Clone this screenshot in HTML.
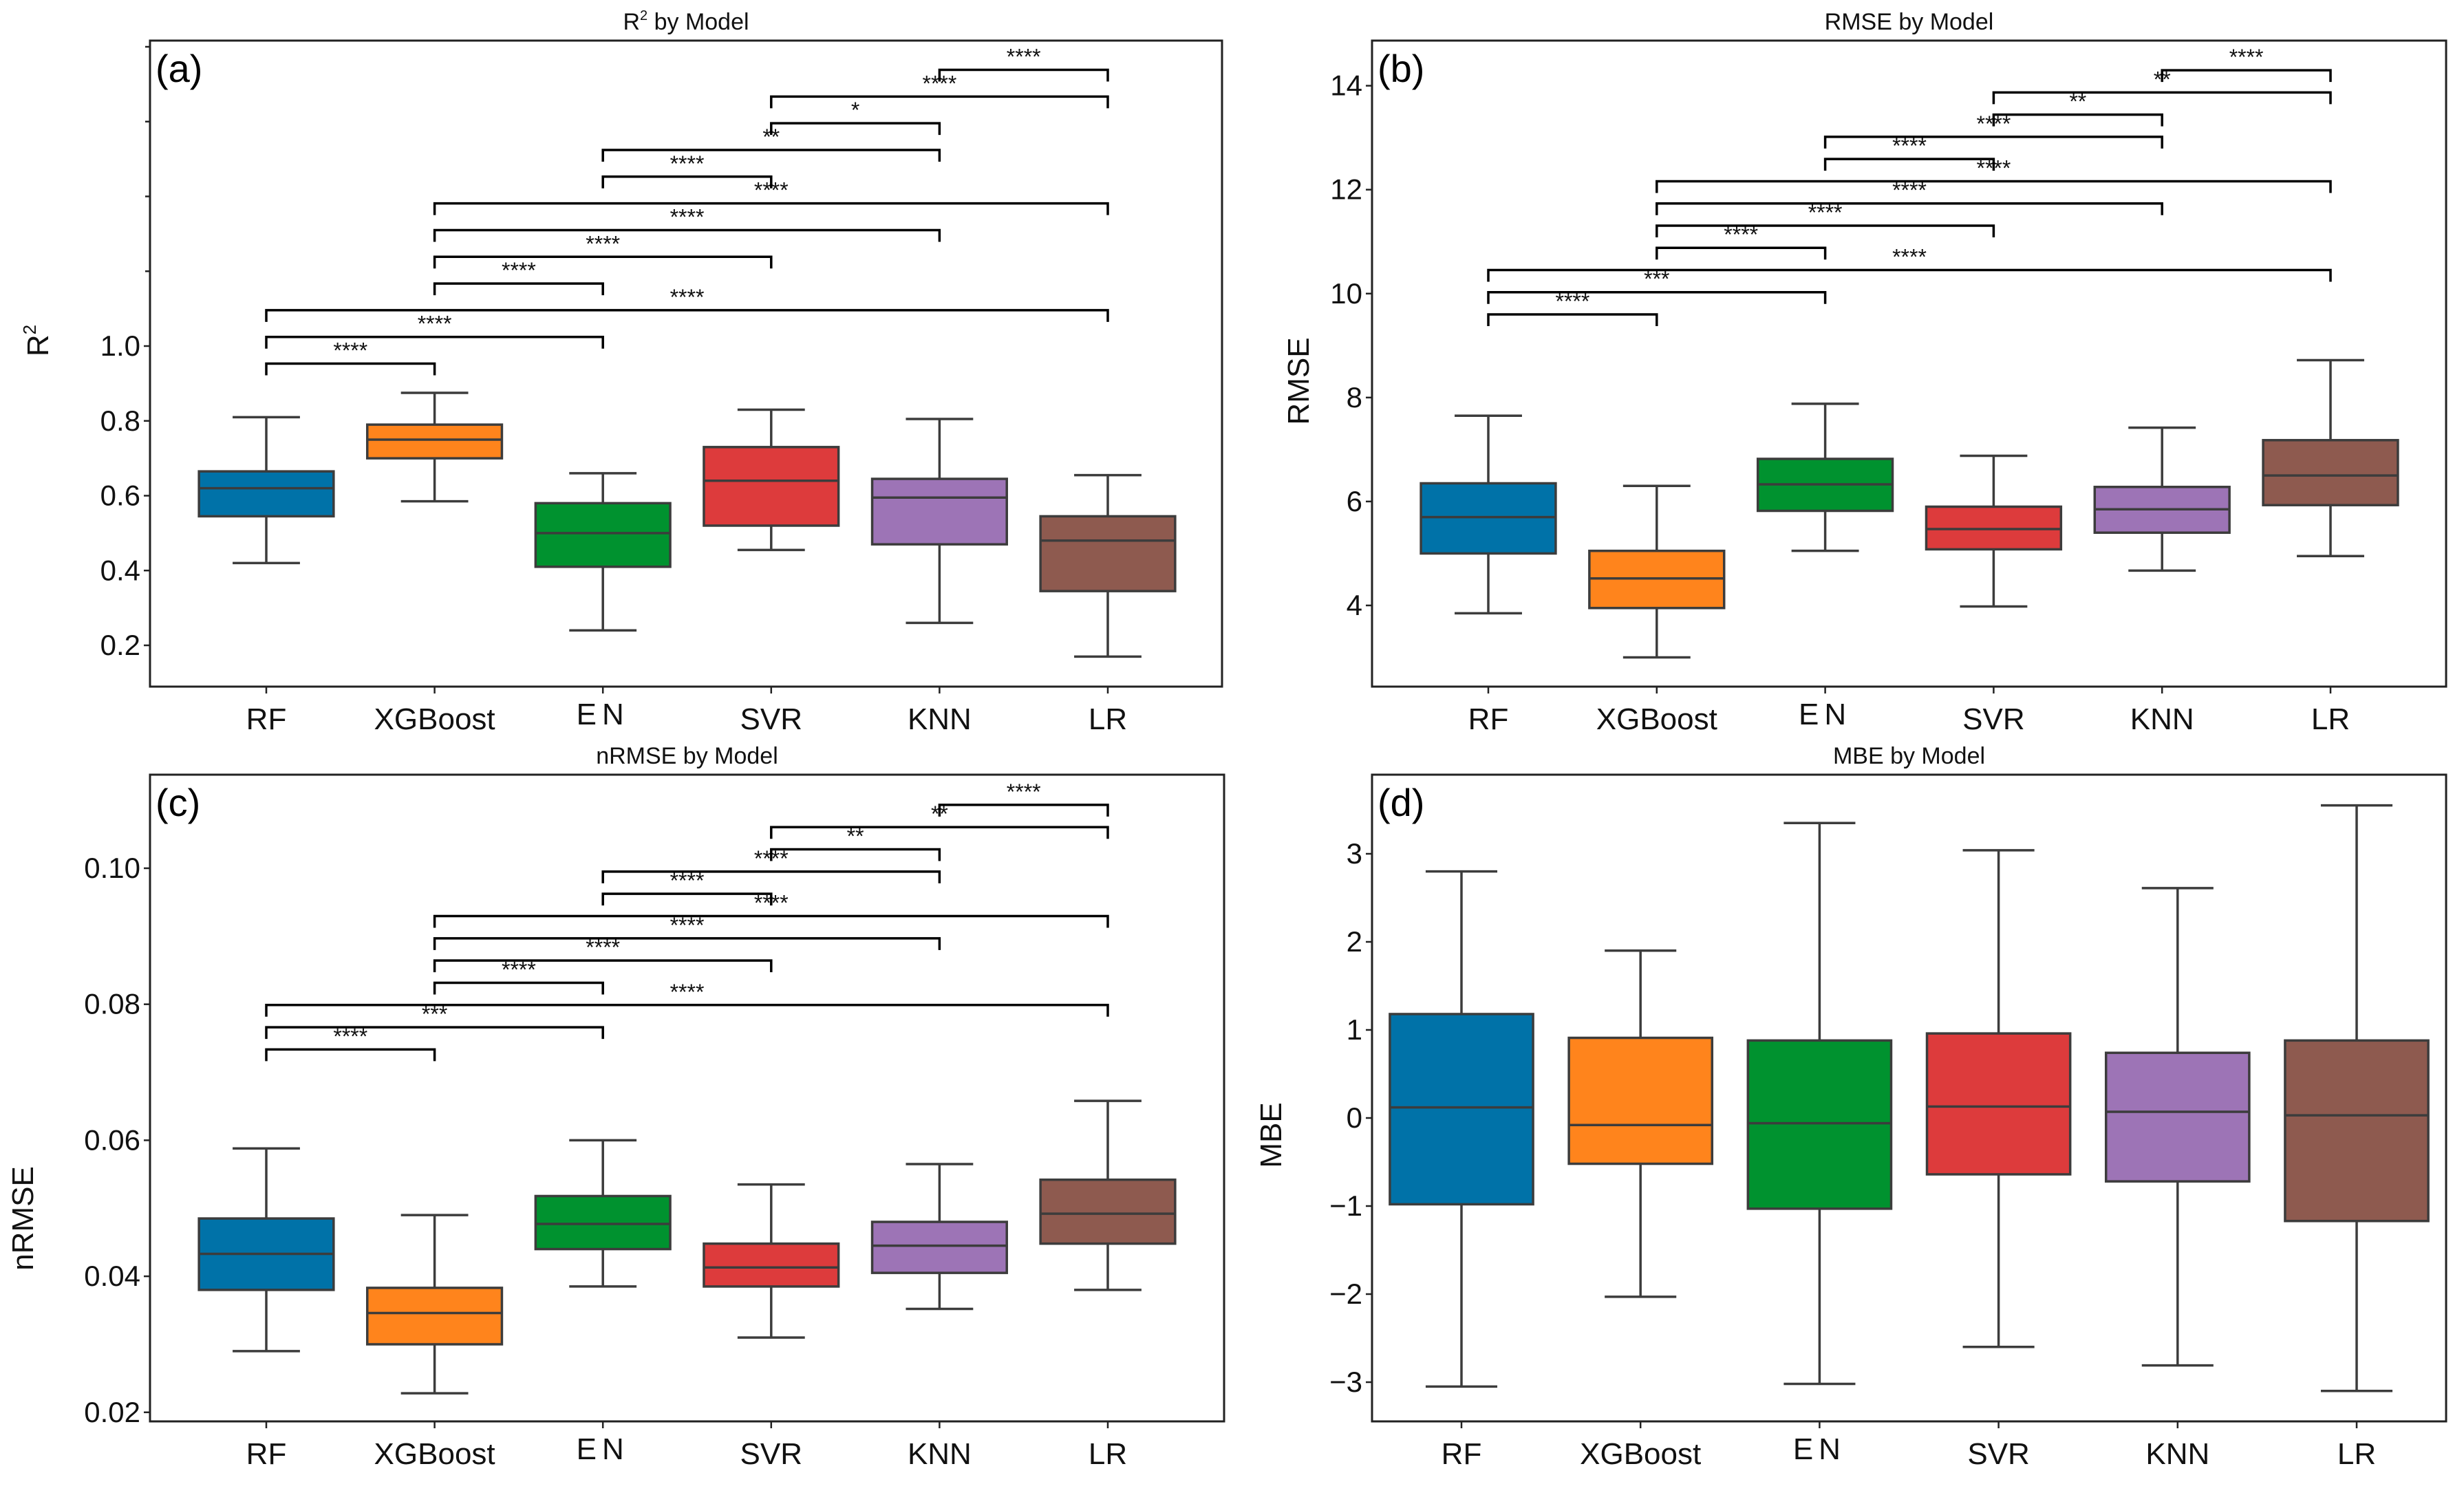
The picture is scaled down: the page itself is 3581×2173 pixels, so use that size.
<!DOCTYPE html>
<html><head><meta charset="utf-8"><style>
html,body{margin:0;padding:0;background:#fff;}
svg{display:block;font-family:"Liberation Sans","DejaVu Sans",sans-serif;}
</style></head><body>
<svg id="fig" width="3581" height="2173" viewBox="0 0 3581 2173" xmlns="http://www.w3.org/2000/svg"></svg>
<script>
const categories = ["RF","XGBoost","EN","SVR","KNN","LR"];
const colors = ["#0072a8","#ff841c","#00922f","#dd3b3c","#9d74b6","#8e5a4f"];

// (a) R2
const r2Lo  = [0.42,0.585,0.24,0.455,0.26,0.17];
const r2Q1  = [0.545,0.70,0.41,0.52,0.47,0.345];
const r2Med = [0.62,0.75,0.50,0.64,0.595,0.48];
const r2Q3  = [0.665,0.79,0.58,0.73,0.645,0.545];
const r2Hi  = [0.81,0.875,0.66,0.83,0.805,0.655];
const r2Ticks = [0.2,0.4,0.6,0.8,1.0];
const r2TickLabels = ["0.2","0.4","0.6","0.8","1.0"];
const r2MinorTicks = [1.2,1.4,1.6,1.8];

// (b) RMSE
const rmseLo  = [3.85,3.0,5.05,3.98,4.67,4.95];
const rmseQ1  = [5.0,3.95,5.82,5.08,5.4,5.93];
const rmseMed = [5.7,4.52,6.33,5.47,5.85,6.5];
const rmseQ3  = [6.35,5.05,6.82,5.9,6.28,7.18];
const rmseHi  = [7.65,6.3,7.88,6.88,7.42,8.72];
const rmseTicks = [4,6,8,10,12,14];
const rmseTickLabels = ["4","6","8","10","12","14"];

// (c) nRMSE
const nrLo  = [0.029,0.0228,0.0385,0.031,0.0352,0.038];
const nrQ1  = [0.038,0.030,0.044,0.0385,0.0405,0.0448];
const nrMed = [0.0433,0.0346,0.0477,0.0413,0.0445,0.0492];
const nrQ3  = [0.0485,0.0383,0.0518,0.0448,0.048,0.0542];
const nrHi  = [0.0588,0.049,0.060,0.0535,0.0565,0.0658];
const nrTicks = [0.02,0.04,0.06,0.08,0.10];
const nrTickLabels = ["0.02","0.04","0.06","0.08","0.10"];

// (d) MBE
const mbeLo  = [-3.05,-2.03,-3.02,-2.6,-2.81,-3.1];
const mbeQ1  = [-0.98,-0.52,-1.03,-0.64,-0.72,-1.17];
const mbeMed = [0.12,-0.08,-0.06,0.13,0.07,0.03];
const mbeQ3  = [1.18,0.91,0.88,0.96,0.74,0.88];
const mbeHi  = [2.8,1.9,3.35,3.04,2.61,3.55];
const mbeTicks = [-3,-2,-1,0,1,2,3];
const mbeTickLabels = ["\u22123","\u22122","\u22121","0","1","2","3"];

// significance brackets (bottom to top)
const pairA = [[0,1],[0,2],[0,5],[1,2],[1,3],[1,4],[1,5],[2,3],[2,4],[3,4],[3,5],[4,5]];
const starsA = ["****","****","****","****","****","****","****","****","**","*","****","****"];
const pairB = [[0,1],[0,2],[0,5],[1,2],[1,3],[1,4],[1,5],[2,3],[2,4],[3,4],[3,5],[4,5]];
const starsB = ["****","***","****","****","****","****","****","****","****","**","**","****"];
const starsC = ["****","***","****","****","****","****","****","****","****","**","**","****"];

const NS="http://www.w3.org/2000/svg";
const svg=document.getElementById('fig');
function mk(tag,attrs,parent){const e=document.createElementNS(NS,tag);for(const k in attrs)e.setAttribute(k,attrs[k]);(parent||svg).appendChild(e);return e;}

function panel(p){
  const g=mk('g',{});
  
  
  const yS=v=>p.y0px+(p.y0v-v)*p.pxPer;
  const xS=i=>p.x0+i*p.dx;
  const bw=p.dx*0.8;
  // title
  const t=mk('text',{x:(p.left+p.right)/2,y:p.top-16,'font-size':34,'text-anchor':'middle',fill:'#111'},g);
  
  
  t.innerHTML=p.title;
  // y ticks
  p.ticks.forEach((v,i)=>{
    const y=yS(v);
    const tk=mk('line',{x1:p.left-9,x2:p.left,y1:y,y2:y,stroke:'#222','stroke-width':2.5},g);
    
    
    const tl=mk('text',{x:p.left-14,y:y+14,'font-size':42,'text-anchor':'end',fill:'#111'},g);
    
    
    tl.textContent=p.tickLabels[i];
  });
  (p.minor||[]).forEach(v=>{
    const y=yS(v);
    const tk=mk('line',{x1:p.left-7,x2:p.left,y1:y,y2:y,stroke:'#222','stroke-width':2.5},g);
    
    
  });
  // y label
  const yl=mk('text',{x:0,y:0,'font-size':44,'text-anchor':'middle',fill:'#111',transform:`translate(${p.ylx},${p.yly}) rotate(-90)`},g);
  
  
  yl.innerHTML=p.ylabel;
  // boxes
  categories.forEach((c,i)=>{
    const cx=xS(i);
    const bg=mk('g',{},g);
    
    
    const st={stroke:'#3c3c3c','stroke-width':3.5};
    mk('line',Object.assign({x1:cx,x2:cx,y1:yS(p.hi[i]),y2:yS(p.q3[i])},st),bg);
    mk('line',Object.assign({x1:cx,x2:cx,y1:yS(p.q1[i]),y2:yS(p.lo[i])},st),bg);
    mk('line',Object.assign({x1:cx-bw/4,x2:cx+bw/4,y1:yS(p.hi[i]),y2:yS(p.hi[i])},st),bg);
    mk('line',Object.assign({x1:cx-bw/4,x2:cx+bw/4,y1:yS(p.lo[i]),y2:yS(p.lo[i])},st),bg);
    mk('rect',Object.assign({x:cx-bw/2,y:yS(p.q3[i]),width:bw,height:yS(p.q1[i])-yS(p.q3[i]),fill:colors[i]},st),bg);
    mk('line',Object.assign({x1:cx-bw/2,x2:cx+bw/2,y1:yS(p.med[i]),y2:yS(p.med[i])},st),bg);
    // x tick & label
    const xt=mk('line',{x1:cx,x2:cx,y1:p.bottom,y2:p.bottom+10,stroke:'#222','stroke-width':2.5},g);
    
    
    const isEN=c==='EN';
    const xl=mk('text',{x:cx,y:p.bottom+(isEN?55:62),'font-size':44,'text-anchor':'middle',fill:'#111','letter-spacing':isEN?8:0},g);
    
    
    xl.textContent=c;
  });
  // brackets
  if(p.pairs){
    p.pairs.forEach((pr,k)=>{
      const yv=p.brBase+k*p.brStep;
      const y=yS(yv);
      const x1=xS(pr[0]),x2=xS(pr[1]);
      const b=mk('path',{d:`M${x1},${y+17}L${x1},${y}L${x2},${y}L${x2},${y+17}`,fill:'none',stroke:'#000','stroke-width':3.5},g);
      
      
      const s=mk('text',{x:(x1+x2)/2,y:y-8,'font-size':32,'text-anchor':'middle',fill:'#111'},g);
      
      
      s.textContent=p.stars[k];
    });
  }
  // frame
  const f=mk('rect',{x:p.left,y:p.top,width:p.right-p.left,height:p.bottom-p.top,fill:'none',stroke:'#222','stroke-width':3},g);
  
  
  const L=mk('text',{x:p.left+8,y:p.top+60,'font-size':56,fill:'#000'},g);
  
  
  L.textContent=p.letter;
}

panel({name:'panel-r2',letter:'(a)',title:'R<tspan font-size="20" dy="-14">2</tspan><tspan dy="14"> by Model</tspan>',
  left:218,right:1776,top:59,bottom:998,x0:387,dx:244.6,y0v:1.0,y0px:503,pxPer:543.75,
  ticks:r2Ticks,tickLabels:r2TickLabels,minor:r2MinorTicks,ylabel:'R<tspan font-size="26" dy="-18">2</tspan>',ylx:70,yly:495,
  lo:r2Lo,q1:r2Q1,med:r2Med,q3:r2Q3,hi:r2Hi,pairs:pairA,stars:starsA,brBase:0.953,brStep:0.0714});
panel({name:'panel-rmse',letter:'(b)',title:'RMSE by Model',
  left:1994,right:3555,top:59,bottom:998,x0:2163,dx:244.8,y0v:14,y0px:124.6,pxPer:75.54,
  ticks:rmseTicks,tickLabels:rmseTickLabels,ylabel:'RMSE',ylx:1902,yly:554,
  lo:rmseLo,q1:rmseQ1,med:rmseMed,q3:rmseQ3,hi:rmseHi,pairs:pairB,stars:starsB,brBase:9.6,brStep:0.427});
panel({name:'panel-nrmse',letter:'(c)',title:'nRMSE by Model',
  left:218,right:1779,top:1126,bottom:2066,x0:387,dx:244.6,y0v:0.10,y0px:1262,pxPer:9885,
  ticks:nrTicks,tickLabels:nrTickLabels,ylabel:'nRMSE',ylx:48,yly:1771,
  lo:nrLo,q1:nrQ1,med:nrMed,q3:nrQ3,hi:nrHi,pairs:pairB,stars:starsC,brBase:0.07335,brStep:0.00327});
panel({name:'panel-mbe',letter:'(d)',title:'MBE by Model',
  left:1994,right:3555,top:1126,bottom:2066,x0:2124,dx:260.2,y0v:3,y0px:1241,pxPer:128,
  ticks:mbeTicks,tickLabels:mbeTickLabels,ylabel:'MBE',ylx:1862,yly:1650,
  lo:mbeLo,q1:mbeQ1,med:mbeMed,q3:mbeQ3,hi:mbeHi});
</script>
</body></html>
